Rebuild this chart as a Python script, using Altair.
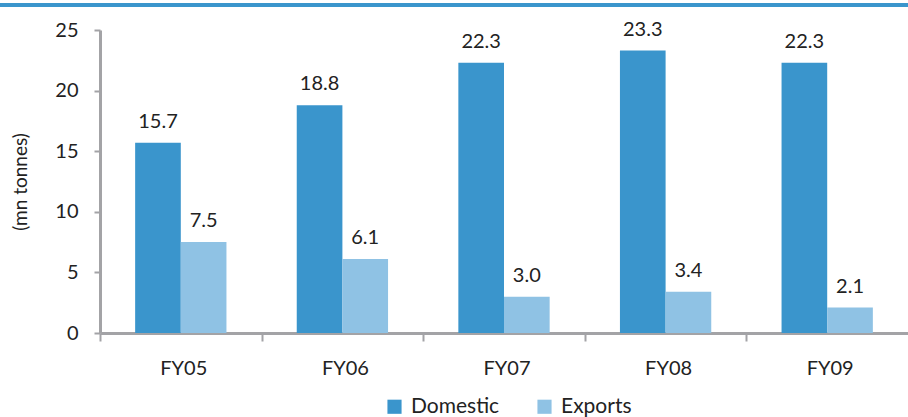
import altair as alt
import pandas as pd

# Coal volumes by fiscal year (mn tonnes)
years = ["FY05", "FY06", "FY07", "FY08", "FY09"]
domestic = [15.7, 18.8, 22.3, 23.3, 22.3]
exports = [7.5, 6.1, 3.0, 3.4, 2.1]
series = ["Domestic", "Exports"]
colors = ["#3a95cc", "#8fc2e4"]

rows = []
for i, y in enumerate(years):
    rows.append({"year": y, "series": "Domestic", "value": domestic[i]})
    rows.append({"year": y, "series": "Exports", "value": exports[i]})
df = pd.DataFrame(rows)

FONT = "Lato"
W, H = 808, 303
P_INNER = 0.435
P_OUTER = P_INNER / 2
step = W / len(years)
band = step * (1 - P_INNER)
outer_px = step * P_OUTER
axis_grey = "#a3a3a6"

x_enc = alt.X(
    "year:N",
    sort=years,
    scale=alt.Scale(paddingInner=P_INNER, paddingOuter=P_OUTER),
    axis=alt.Axis(
        title=None,
        bandPosition=0,
        tickOffset=-outer_px,
        labelOffset=band / 2 - 8,
        labelAngle=0,
        labelFontSize=20,
        labelColor="#222222",
        labelPadding=17,
        tickSize=8,
        tickWidth=2,
        tickColor=axis_grey,
        domainColor=axis_grey,
        domainWidth=3,
        grid=False,
    ),
)
y_enc = alt.Y(
    "value:Q",
    scale=alt.Scale(domain=[0, 25], nice=False),
    axis=alt.Axis(
        title="(mn tonnes)",
        values=[0, 5, 10, 15, 20, 25],
        titleFontSize=19,
        titleFontWeight="normal",
        titleColor="#222222",
        titlePadding=24,
        labelFontSize=20,
        labelColor="#222222",
        labelPadding=16,
        tickSize=6,
        tickWidth=2,
        tickColor=axis_grey,
        domainColor=axis_grey,
        domainWidth=3,
        grid=False,
    ),
)
color_enc = alt.Color(
    "series:N",
    sort=series,
    scale=alt.Scale(domain=series, range=colors),
    legend=alt.Legend(
        title=None,
        orient="none",
        legendX=284,
        legendY=366,
        direction="horizontal",
        symbolType="square",
        symbolSize=200,
        symbolStrokeWidth=0,
        labelFontSize=21,
        labelColor="#222222",
        columnPadding=34,
        labelOffset=6,
    ),
)

base = alt.Chart(df).encode(
    x=x_enc,
    xOffset=alt.XOffset("series:N", sort=series),
)

bars = base.mark_bar().encode(y=y_enc, color=color_enc)

labels = base.mark_text(
    baseline="bottom", dy=-11, fontSize=20, color="#222222", font=FONT
).encode(
    y="value:Q",
    text=alt.Text("value:Q", format=".1f"),
)

# thin accent rule along the top edge of the page
top_rule = alt.Chart(df).mark_rule(color="#3a95cc", strokeWidth=3).encode(
    x=alt.value(-100), x2=alt.value(W + 10), y=alt.value(-25)
)

chart = (
    alt.layer(bars, labels, top_rule)
    .properties(
        width=W,
        height=H,
        autosize=alt.AutoSizeParams(type="none"),
        padding={"left": 100, "top": 30, "right": 0, "bottom": 84},
    )
    .configure(font=FONT)
    .configure_view(stroke=None)
)

chart.save("out.html", embed_options={"renderer": "svg", "actions": False})
